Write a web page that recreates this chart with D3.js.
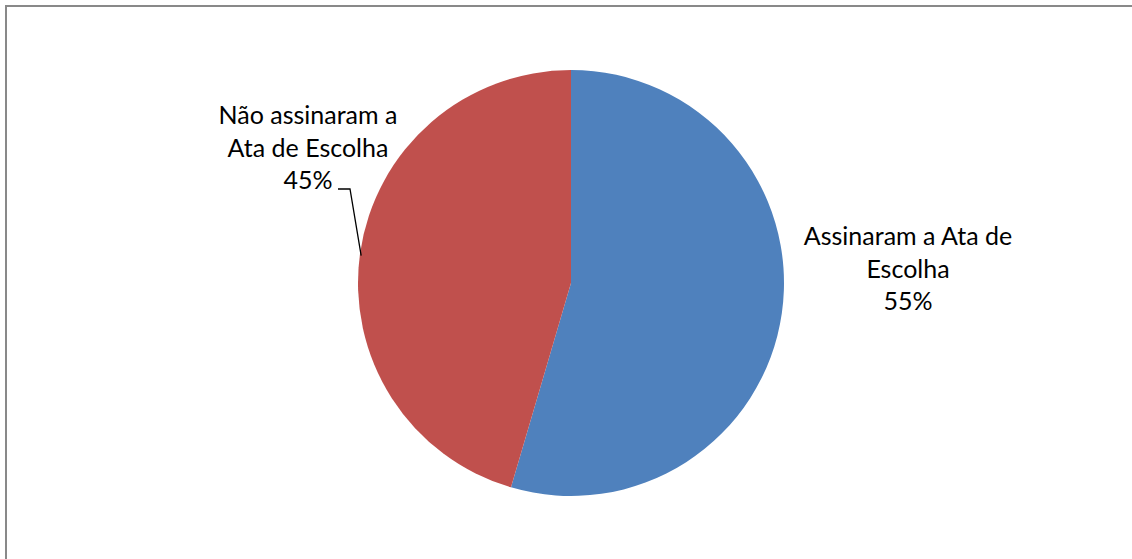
<!DOCTYPE html>
<html><head><meta charset="utf-8">
<script src="https://cdn.jsdelivr.net/npm/d3@7"></script>
<style>html,body{margin:0;padding:0;background:#fff;}svg{display:block;}</style>
</head><body>
<svg id="c" width="1132" height="559"></svg>
<script>
const categories = ["Assinaram a Ata de Escolha", "Não assinaram a Ata de Escolha"];
const values = [12, 10];
const labelLines = [["Assinaram a Ata de", "Escolha"], ["Não assinaram a", "Ata de Escolha"]];
const colors = ["#4F81BD", "#C0504D"];

const svg = d3.select("#c");
svg.append("rect").attr("x", 6).attr("y", 6).attr("width", 1140).attr("height", 600)
  .attr("fill", "none").attr("stroke", "#898989").attr("stroke-width", 2);

const cx = 571, cy = 283, r = 213;
const pie = d3.pie().sort(null).value(d => d);
const arcs = pie(values);
const arc = d3.arc().innerRadius(0).outerRadius(r);
const g = svg.append("g").attr("transform", `translate(${cx},${cy})`);
g.selectAll("path").data(arcs).enter().append("path")
  .attr("d", arc).attr("fill", (d, i) => colors[i]);

const total = d3.sum(values);
const fmt = v => Math.round(v / total * 100) + "%";
const labelPos = [[908, 245], [308, 124]];
const font = "Lato, 'Open Sans', sans-serif";
arcs.forEach((a, i) => {
  const lines = labelLines[i].concat([fmt(values[i])]);
  const t = svg.append("text").attr("text-anchor", "middle")
    .attr("font-family", font).attr("font-size", 25).attr("fill", "#000");
  lines.forEach((l, j) => {
    t.append("tspan").attr("x", labelPos[i][0]).attr("y", labelPos[i][1] + j * 32.5).text(l);
  });
});

// leader line for the red slice
const a1 = arcs[1];
const mid = (a1.startAngle + a1.endAngle) / 2;
const ex = cx + r * Math.sin(mid), ey = cy - r * Math.cos(mid);
svg.append("path")
  .attr("d", `M338,189 L350,189 L${ex + 1},${ey + 3}`)
  .attr("fill", "none").attr("stroke", "#000").attr("stroke-width", 1.3);
</script>
</body></html>
